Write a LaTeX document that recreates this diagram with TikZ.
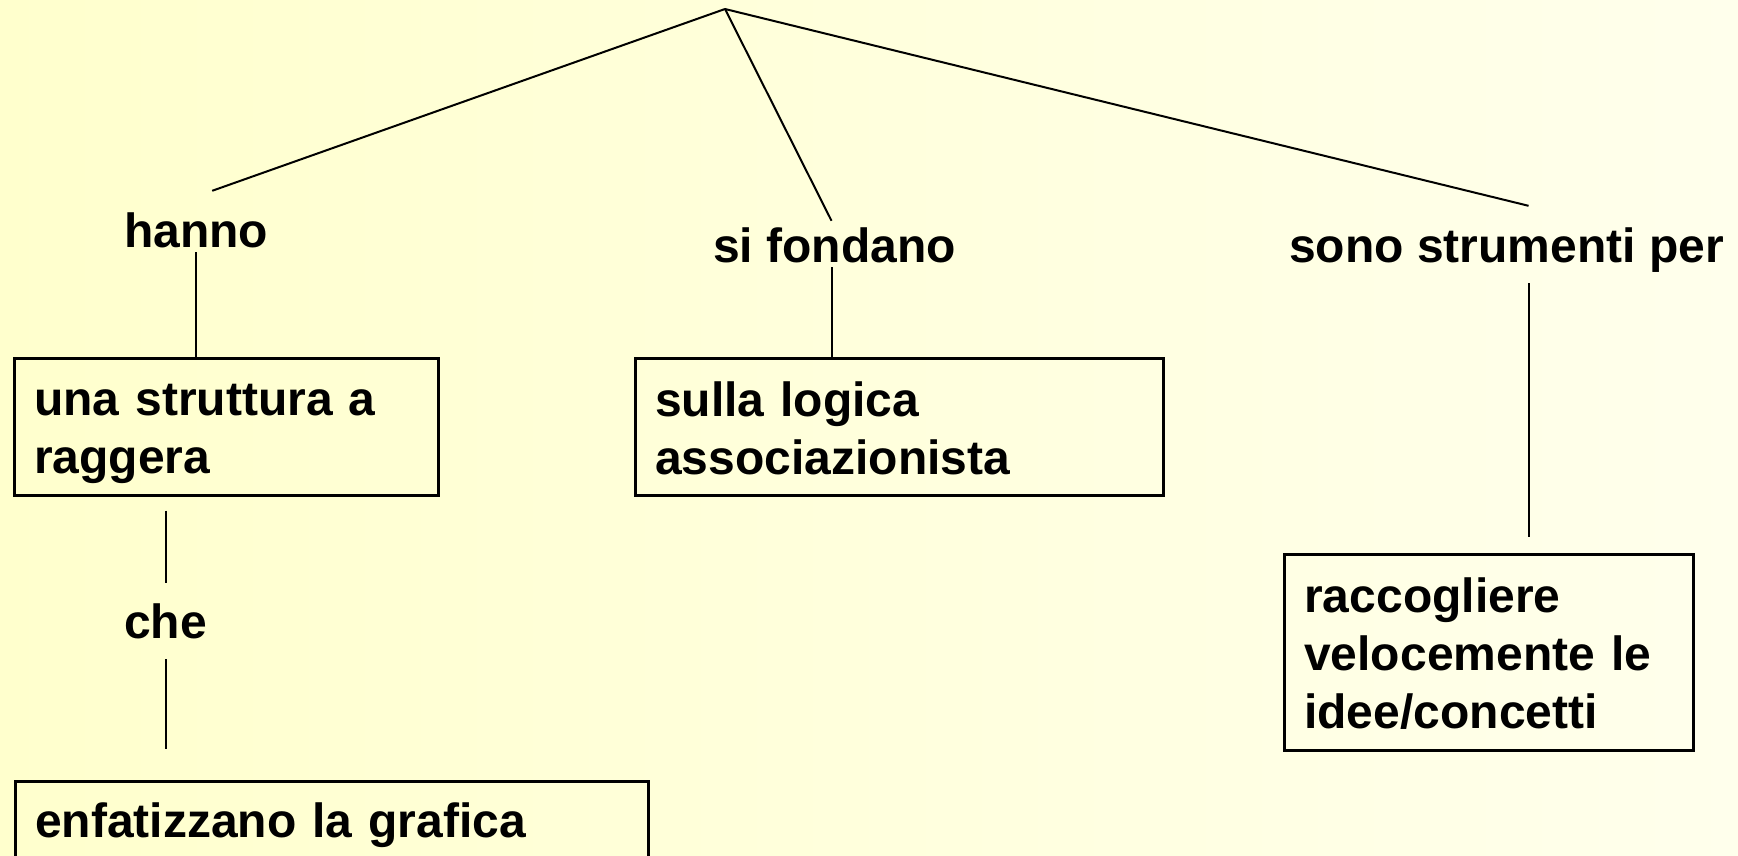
\documentclass[tikz,border=0pt]{standalone}
\usepackage{fontspec}
\setmainfont{Liberation Sans}
\usepackage{tikz}
\usetikzlibrary{calc}
\definecolor{sfondoA}{RGB}{255,255,205}
\definecolor{sfondoB}{RGB}{255,255,236}
\newcommand{\testo}{\fontsize{48pt}{58pt}\selectfont\bfseries}
\newcommand{\riga}{\rule[-8pt]{0pt}{53pt}}
\tikzset{
  concetto/.style = {draw, line width = 2.5pt, anchor = north west, inner xsep = 20pt, inner ysep = 0pt, align = left, font = \testo},
  legame/.style = {anchor = base west, inner sep = 0pt, text height = 35pt, text depth = 5pt, font = \testo},
  ramo/.style = {line width = 2pt}
}

\begin{document}
\begin{tikzpicture}[x = 1pt, y = -1pt]
\useasboundingbox (0,0) rectangle (1738,856);
\shade[left color = sfondoA, right color = sfondoB] (0,0) rectangle (1738,856);
% concetti
\node[concetto, text width = 384pt, minimum height = 137pt] (struttura) at (13,357) {\riga una struttura a\\\riga raggera};
\node[concetto, text width = 488pt, minimum height = 137pt] (logica) at (634,357) {\riga sulla logica\\\riga associazionista};
\node[concetto, text width = 369pt, minimum height = 196pt] (idee) at (1283,553) {\riga raccogliere\\\riga velocemente le\\\riga idee/concetti};
\node[concetto, text width = 593pt, minimum height = 78pt] (grafica) at (14,780) {\riga enfatizzano la grafica};
% legami
\node[legame] (hanno) at (124,247) {hanno};
\node[legame] (fondano) at (713,262) {si fondano};
\node[legame] (strumenti) at (1289,262) {sono strumenti per};
\node[legame] (che) at (124,638) {che};
% rami
\coordinate (vertice) at (725,9);
\draw[ramo] (vertice) -- ([xshift = 16pt, yshift = 21pt]hanno.north);
\draw[ramo] (vertice) -- ([xshift = -3pt, yshift = 6pt]fondano.north);
\draw[ramo] (vertice) -- ([xshift = 22pt, yshift = 21pt]strumenti.north);
\draw[ramo] (hanno.south) -- (hanno.south |- struttura.north);
\draw[ramo] ([xshift = -3pt]fondano.south) -- ([xshift = -3pt]fondano.south |- logica.north);
\draw[ramo, shorten <= 16pt, shorten >= 16pt] ([xshift = 22pt]strumenti.south) -- ([xshift = 22pt]strumenti.south |- idee.north);
\draw[ramo, shorten <= 14pt, shorten >= 20pt] (che.north |- struttura.south) -- (che.north);
\draw[ramo, shorten <= 16pt, shorten >= 31pt] (che.south) -- (che.south |- grafica.north);
\end{tikzpicture}
\end{document}
